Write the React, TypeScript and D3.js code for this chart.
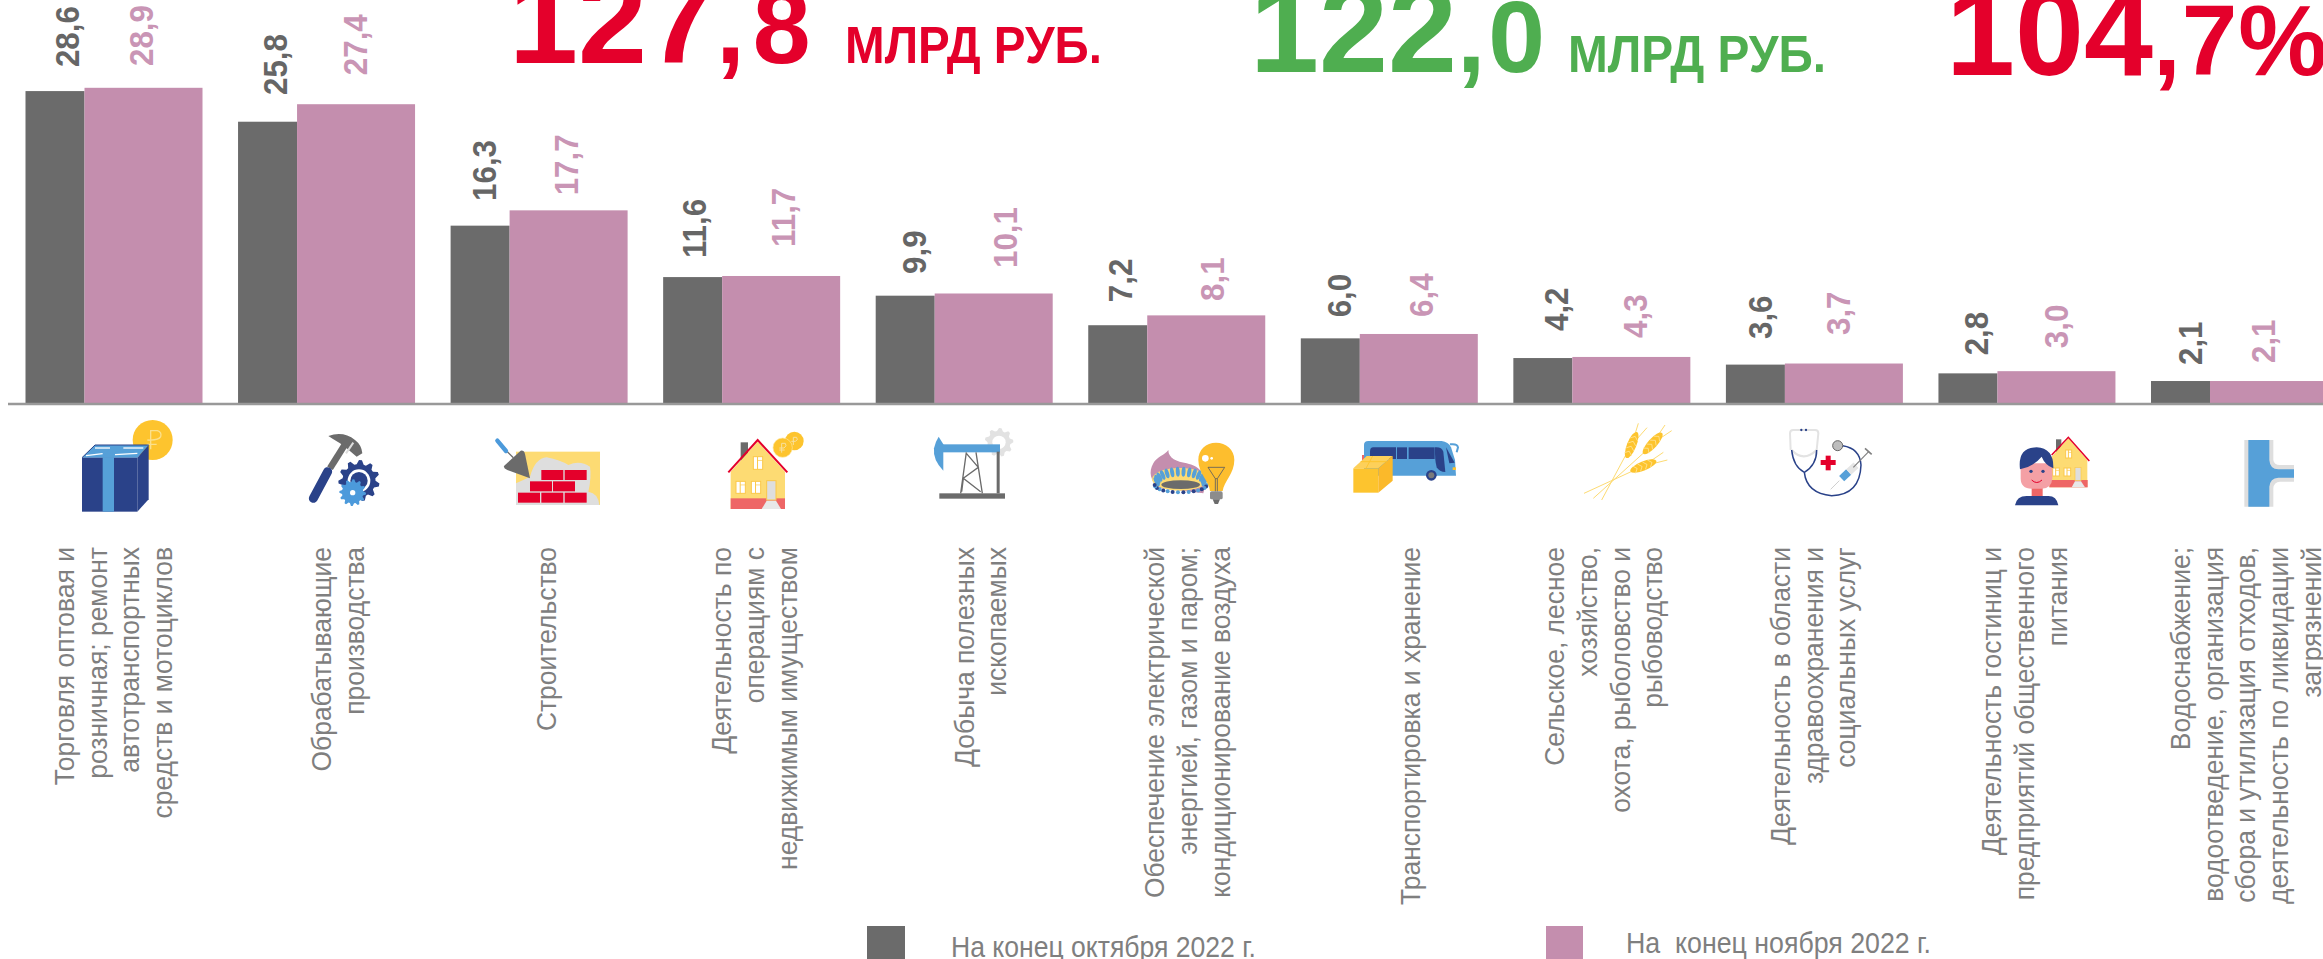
import React from "react";
import * as d3 from "d3";

// ---------- data ----------
const categories: string[][] = [
  ["Торговля оптовая и", "розничная; ремонт", "автотранспортных", "средств и мотоциклов"],
  ["Обрабатывающие", "производства"],
  ["Строительство"],
  ["Деятельность по", "операциям с", "недвижимым имуществом"],
  ["Добыча полезных", "ископаемых"],
  ["Обеспечение электрической", "энергией, газом и паром;", "кондиционирование воздуха"],
  ["Транспортировка и хранение"],
  ["Сельское, лесное", "хозяйство,", "охота, рыболовство и", "рыбоводство"],
  ["Деятельность в области", "здравоохранения и", "социальных услуг"],
  ["Деятельность гостиниц и", "предприятий общественного", "питания"],
  ["Водоснабжение;", "водоотведение, организация", "сбора и утилизация отходов,", "деятельность по ликвидации", "загрязнений"],
];
const octoberValues = [28.6, 25.8, 16.3, 11.6, 9.9, 7.2, 6.0, 4.2, 3.6, 2.8, 2.1];
const novemberValues = [28.9, 27.4, 17.7, 11.7, 10.1, 8.1, 6.4, 4.3, 3.7, 3.0, 2.1];
const legendOctober = "На конец октября 2022 г.";
const legendNovember = "На  конец ноября 2022 г.";
const unitText = "МЛРД РУБ.";

// ---------- layout (separate from the data) ----------
const W = 2323, H = 959;
const AXIS_Y = 404;
const octLabelDx = [53.5, 49, 45, 42.6, 50, 44, 50, 55, 46, 50, 51];
const novLabelDx = [127.5, 129, 127, 132, 141, 136, 132, 134, 124, 130, 124];
const octLabelGap = [24, 26.7, 24.7, 19, 21.7, 23, 21, 27, 25.6, 18, 16];
const novLabelGap = [21.8, 29, 15, 29, 25.5, 14.4, 17, 19, 28.5, 23, 18];
const catFirstBaseDx = [48.5, 93, 105, 68, 98, 76, 119, 51, 64, 63, 39];
const LINE_STEP = 32.7;
const LABEL_TOP = 547;

const DARK = "#6B6B6B", PINK = "#C48EAE", RED = "#E4002B", GREEN = "#4FAE50";
const BLUE = "#2A4289", SKY = "#56A0D8", GOLD = "#FDC42E", SAND = "#FDDB73", CORAL = "#EE6666", LIGHT = "#DEDEDE";
const FONT = "'Liberation Sans', Arial, sans-serif";

const x = d3.scaleBand<number>().domain(d3.range(categories.length)).range([25.5, 25.5 + 212.55 * categories.length]);
const y = d3.scaleLinear().domain([0, 28.9]).range([AXIS_Y, 87.8]);
const sub = d3.scaleLinear().domain([0, 3]).range([0, 177]);

// ---------- icon helpers ----------
function gear(cx: number, cy: number, r: number, teeth: number) {
  const pts: [number, number][] = [];
  const n = teeth * 4;
  for (let i = 0; i < n; i++) {
    const a = (i / n) * 2 * Math.PI;
    pts.push([a, i % 4 < 2 ? r : r * 0.8]);
  }
  const p = d3.lineRadial().curve(d3.curveLinearClosed)(pts) as string;
  return { p, t: `translate(${cx},${cy})` };
}
const Gear = ({ cx, cy, r, teeth, fill }: any) => {
  const g = gear(cx, cy, r, teeth);
  return <path d={g.p} transform={g.t} fill={fill} />;
};
const Icon = ({ ox, oy, children }: any) => <g transform={`translate(${ox},${oy}) scale(${1 / 3})`}>{children}</g>;

const Win = ({ x, y, w, h }: any) => (
  <g>
    <rect x={x} y={y} width={w} height={h} fill="#fff" stroke="#FBC84A" strokeWidth={3} />
    <line x1={x + w * 0.45} x2={x + w * 0.45} y1={y} y2={y + h} stroke="#FBC84A" strokeWidth={3} />
    <line x1={x + w * 0.45} x2={x + w} y1={y + h * 0.3} y2={y + h * 0.3} stroke="#FBC84A" strokeWidth={2} />
  </g>
);

const Wheat = ({ x0, y0, x1, y1, ax, ay, bx, by, hx, hy, rot }: any) => (
  <g>
    <line x1={x0} y1={y0} x2={x1} y2={y1} stroke={SAND} strokeWidth={3} />
    <line x1={hx} y1={hy} x2={ax} y2={ay} stroke={SAND} strokeWidth={3} />
    <line x1={hx} y1={hy} x2={bx} y2={by} stroke={SAND} strokeWidth={3} />
    <g transform={`translate(${hx},${hy}) rotate(${rot})`}>
      <ellipse rx={42} ry={14} fill={GOLD} />
      {[-24, -8, 8, 24].map((d) => (
        <path key={d} d={`M${d - 6},-12 L${d + 4},0 L${d - 6},12`} fill="none" stroke="#FFE9A8" strokeWidth={2} />
      ))}
    </g>
  </g>
);

const icons = (
  <g>
    {/* shop */}
    <Icon ox={60} oy={410}>
      <circle cx={278} cy={90} r={60} fill={GOLD} />
      <path d="M272,118 L272,62 L292,62 Q306,66 302,80 Q296,92 262,90 M260,103 L290,103" fill="none" stroke="#FBE08C" strokeWidth={4} />
      <polygon points="66,143 105,105 266,105 232,143" fill={SKY} />
      <polygon points="232,143 266,105 266,268 232,305" fill={BLUE} />
      <rect x={66} y={143} width={166} height={162} fill={BLUE} />
      <rect x={128} y={143} width={34} height={162} fill={SKY} />
      <polygon points="128,143 162,143 190,105 158,105" fill={SKY} />
      <line x1={78} y1={137} x2={128} y2={131} stroke="#fff" strokeWidth={4} />
      <line x1={165} y1={134} x2={232} y2={130} stroke="#fff" strokeWidth={4} />
      <line x1={105} y1={114} x2={150} y2={114} stroke="#fff" strokeWidth={4} />
      <line x1={190} y1={114} x2={250} y2={114} stroke="#fff" strokeWidth={4} />
      <polyline points="66,143 105,105 266,105" fill="none" stroke={BLUE} strokeWidth={3} />
    </Icon>
    {/* manufacturing */}
    <Icon ox={60} oy={410}>
      <line x1={810} y1={175} x2={860} y2={95} stroke={DARK} strokeWidth={20} />
      <line x1={760} y1={265} x2={803} y2={185} stroke={BLUE} strokeWidth={27} strokeLinecap="round" />
      <path d="M805,78 Q850,62 885,90 Q905,105 907,130 L890,140 L860,115 L840,100 Q820,88 805,78 Z" fill={DARK} />
      <line x1={880} y1={98} x2={858} y2={130} stroke="#ddd" strokeWidth={6} />
      <Gear cx={897} cy={212} r={62} teeth={11} fill={BLUE} />
      <circle cx={897} cy={212} r={34} fill="#fff" />
      <circle cx={897} cy={212} r={26} fill={BLUE} />
      <Gear cx={878} cy={248} r={40} teeth={12} fill="#4C9ADB" />
      <circle cx={878} cy={248} r={8} fill="#fff" />
    </Icon>
    {/* construction */}
    <Icon ox={480} oy={410}>
      <rect x={108} y={125} width={252} height={160} fill={SAND} />
      <path d="M108,285 L108,220 Q130,210 150,200 Q165,145 200,142 Q240,150 265,165 Q300,150 330,170 Q335,200 325,245 Q355,250 358,285 Z" fill={LIGHT} />
      {[[184, 180], [254, 180], [150, 214], [219, 214], [114, 248], [184, 248], [254, 248]].map(([bx, by]) => (
        <rect key={`${bx}-${by}`} x={bx} y={by} width={66} height={30} fill={RED} />
      ))}
      <line x1={82} y1={125} x2={100} y2={143} stroke={DARK} strokeWidth={4} />
      <line x1={52} y1={92} x2={78} y2={123} stroke="#4C9ADB" strokeWidth={13} strokeLinecap="round" />
      <path d="M72,168 L122,122 Q132,120 135,132 L150,205 L82,180 Q70,175 72,168 Z" fill={DARK} />
    </Icon>
    {/* real estate */}
    <Icon ox={480} oy={410}>
      <rect x={782} y={97} width={22} height={55} fill={DARK} />
      <polygon points="752,185 833,95 915,185 915,297 752,297" fill={SAND} />
      <rect x={752} y={265} width={163} height={32} fill={CORAL} />
      <polyline points="745,187 833,90 922,187" fill="none" stroke={RED} strokeWidth={6} />
      <Win x={820} y={140} w={28} h={38} />
      <Win x={768} y={214} w={28} h={36} />
      <Win x={814} y={214} w={28} h={36} />
      <rect x={860} y={212} width={28} height={58} fill={LIGHT} stroke="#FBC84A" strokeWidth={3} />
      <polygon points="845,297 860,272 888,272 903,297" fill="#E8E8E8" />
      <circle cx={943} cy={93} r={28} fill={GOLD} />
      <circle cx={908} cy={113} r={29} fill={GOLD} stroke="#FDE7A0" strokeWidth={2} />
      <path d="M905,128 L905,100 L916,100 Q922,108 912,114 L898,114 M898,120 L914,120" fill="none" stroke="#F7E0A0" strokeWidth={3} />
      <path d="M940,105 L940,82 L950,82 Q956,90 946,94 L934,94" fill="none" stroke="#F7E0A0" strokeWidth={3} />
    </Icon>
    {/* mining */}
    <Icon ox={920} oy={410}>
      <Gear cx={237} cy={97} r={43} teeth={9} fill="#E2E2E2" />
      <circle cx={237} cy={97} r={20} fill="#fff" />
      <rect x={68} y={103} width={172} height={24} fill={SKY} />
      <path d="M70,182 Q38,150 42,115 Q46,95 56,80 L70,103 Z" fill={SKY} />
      <rect x={58} y={250} width={197} height={16} fill={DARK} />
      <rect x={230} y={125} width={9} height={125} fill={DARK} />
      <path d="M139,127 L122,250 M168,127 L187,250 M139,130 L175,172 L130,205 L182,245 M130,205 L125,245" fill="none" stroke={DARK} strokeWidth={4} />
    </Icon>
    {/* energy */}
    <Icon ox={920} oy={410}>
      <path d="M745,120 C745,145 770,155 800,160 C820,165 830,170 840,180 L860,210 L850,250 L720,235 C690,215 685,185 700,160 C710,140 735,135 745,120 Z" fill={PINK} />
      <ellipse cx={780} cy={208} rx={84} ry={34} fill={SAND} />
      {d3.range(14).map((i) => {
        const a = Math.PI + (i / 13) * Math.PI;
        const fx = 782 + 72 * Math.cos(a), fy = 215 + 30 * Math.sin(a);
        return <ellipse key={i} cx={fx} cy={fy} rx={6} ry={15} fill={SKY} transform={`rotate(${(Math.cos(a) * 30).toFixed(1)},${fx},${fy})`} />;
      })}
      {d3.range(16).map((i) => {
        const a = (i / 15) * Math.PI;
        const fx = 782 + 78 * Math.cos(a), fy = 225 + 22 * Math.sin(a);
        return <circle key={i} cx={fx} cy={fy} r={6} fill={i % 2 ? BLUE : SKY} />;
      })}
      <ellipse cx={782} cy={224} rx={58} ry={13} fill={DARK} />
      <path d="M870,243 C868,215 835,190 835,150 C835,118 858,98 888,98 C918,98 943,118 943,150 C943,190 912,215 908,243 Z" fill="#FDBE2E" />
      <circle cx={856} cy={145} r={10} fill="#fff" />
      <circle cx={875} cy={145} r={4} fill="#fff" />
      <path d="M864,172 L914,172 L892,206 L886,206 Z M886,206 L886,245 M892,206 L892,245" fill="none" stroke="#5E5E5E" strokeWidth={2.5} />
      <rect x={870} y={244} width={38} height={24} rx={5} fill="#8C8C8C" />
      <path d="M878,268 L900,268 L894,282 L884,282 Z" fill="#6B6B6B" />
    </Icon>
    {/* transport */}
    <Icon ox={1340} oy={410}>
      <rect x={66} y={135} width={10} height={20} fill={CORAL} />
      <path d="M72,105 Q72,93 85,93 L305,93 Q325,95 333,112 L345,150 L348,197 L72,197 Z" fill={SKY} />
      <path d="M90,125 Q90,112 100,112 L168,112 L168,147 L90,147 Z" fill={BLUE} />
      <rect x={171} y={112} width={30} height={35} fill={BLUE} />
      <rect x={206} y={112} width={78} height={35} fill={BLUE} />
      <path d="M285,112 Q305,110 310,125 L316,186 Q298,186 290,172 Q284,150 285,112 Z" fill={BLUE} />
      <path d="M318,112 L344,158 L328,160 Z" fill={BLUE} />
      <path d="M330,103 Q352,100 354,112 L350,127" fill="none" stroke={SKY} strokeWidth={6} />
      <rect x={338} y={172} width={10} height={8} fill={GOLD} />
      <circle cx={274} cy={196} r={16} fill={BLUE} />
      <circle cx={274} cy={196} r={9} fill="#7A7A7A" />
      <polygon points="40,175 80,138 158,138 115,175" fill="#FDD05A" />
      <rect x={40} y={175} width={75} height={73} fill={GOLD} />
      <polygon points="115,175 158,138 158,212 115,248" fill="#FBB92A" />
      <path d="M62,155 L140,155 M98,138 L78,175" stroke={GOLD} strokeWidth={3} fill="none" />
    </Icon>
    {/* agriculture */}
    <Icon ox={1340} oy={410}>
      <Wheat x0={785} y0={270} x1={860} y1={130} hx={875} hy={105} rot={-68} ax={895} ay={40} bx={921} by={53} />
      <Wheat x0={760} y0={265} x1={915} y1={125} hx={938} hy={100} rot={-48} ax={975} ay={45} bx={995} by={62} />
      <Wheat x0={732} y0={250} x1={880} y1={182} hx={910} hy={168} rot={-22} ax={970} ay={127} bx={982} by={150} />
    </Icon>
    {/* health */}
    <Icon ox={1770} oy={410}>
      <path d="M62,120 L60,70 Q60,60 70,60 L135,60 Q145,60 145,70 L140,120" fill="none" stroke="#E3E3E3" strokeWidth={6} />
      <path d="M65,120 Q100,158 140,120" fill="none" stroke="#E3E3E3" strokeWidth={7} />
      <circle cx={94} cy={60} r={3.5} fill={BLUE} /><circle cx={108} cy={60} r={3.5} fill={BLUE} />
      <path d="M65,120 Q70,170 103,187 Q140,165 140,120 M103,187 Q110,250 185,257 Q270,255 273,165 Q270,115 218,107" fill="none" stroke={BLUE} strokeWidth={4.5} />
      <circle cx={203} cy={107} r={15} fill="#BDBDBD" stroke="#666" strokeWidth={3} />
      <rect x={152} y={150} width={45} height={15} fill={RED} />
      <rect x={167} y={137} width={15} height={44} fill={RED} />
      <line x1={182} y1={238} x2={208} y2={212} stroke="#D0D0D0" strokeWidth={3} />
      <line x1={215} y1={206} x2={236} y2={186} stroke={SKY} strokeWidth={22} />
      <line x1={236} y1={186} x2={258} y2={166} stroke="#E5E5E5" strokeWidth={22} />
      <line x1={250} y1={172} x2={296} y2={125} stroke="#808080" strokeWidth={3.5} />
      <line x1={285} y1={115} x2={305} y2={133} stroke="#808080" strokeWidth={5} />
    </Icon>
    {/* hotels */}
    <Icon ox={1770} oy={410}>
      <rect x={858} y={88} width={16} height={40} fill={DARK} />
      <polygon points="845,140 895,85 952,150 952,232 838,232 838,180" fill={SAND} />
      <rect x={838} y={210} width={115} height={22} fill={CORAL} />
      <polyline points="845,135 895,82 958,153" fill="none" stroke={RED} strokeWidth={4.5} />
      <Win x={887} y={120} w={18} h={24} />
      <Win x={848} y={174} w={20} h={24} />
      <Win x={882} y={174} w={20} h={24} />
      <rect x={915} y={172} width={18} height={40} fill={LIGHT} stroke="#FBC84A" strokeWidth={2} />
      <polygon points="905,232 915,214 933,214 945,232" fill="#E8E8E8" />
      <rect x={785} y={232} width={33} height={26} fill={CORAL} />
      <path d="M735,286 Q740,258 770,258 L835,258 Q860,258 865,286 Z" fill={BLUE} />
      <path d="M752,160 L847,160 L847,205 Q845,236 815,236 L785,236 Q752,236 752,205 Z" fill="#F4A0A5" />
      <path d="M750,178 Q742,112 800,112 Q852,115 850,175 Q825,165 815,140 Q790,170 750,178 Z" fill={BLUE} />
      <circle cx={783} cy={184} r={5} fill={BLUE} /><circle cx={819} cy={184} r={5} fill={BLUE} />
      <path d="M785,210 Q800,225 816,210" fill="none" stroke={RED} strokeWidth={3} />
    </Icon>
    {/* water */}
    <Icon ox={2200} oy={410}>
      <path d="M133,90 L220,90 L220,150 Q222,165 240,165 L282,165 L282,215 L240,215 Q222,215 220,235 L220,290 L133,290 Z" fill={LIGHT} />
      <path d="M145,90 L208,90 L208,150 Q210,178 235,178 L282,178 L282,203 L235,203 Q210,205 208,230 L208,290 L145,290 Z" fill={SKY} />
    </Icon>
  </g>
);

export default function App() {
  const sp = { fontFamily: FONT, fontWeight: 700 } as const;
  return (
    <svg width={W} height={H} viewBox={`0 0 ${W} ${H}`} style={{ position: "absolute", left: 0, top: 0, display: "block", background: "#fff" }}>
      {/* headline figures */}
      <text x={509} y={63} fill={RED} {...sp}><tspan fontSize={124}>127</tspan><tspan fontSize={104} letterSpacing={8}>,8</tspan></text>
      <text x={845} y={63} fill={RED} {...sp} fontSize={51} textLength={257} lengthAdjust="spacingAndGlyphs">{unitText}</text>
      <text x={1250} y={72} fill={GREEN} {...sp}><tspan fontSize={124}>122</tspan><tspan fontSize={102} letterSpacing={3}>,0</tspan></text>
      <text x={1568} y={72} fill={GREEN} {...sp} fontSize={51} textLength={258} lengthAdjust="spacingAndGlyphs">{unitText}</text>
      <text x={1946} y={75} fill={RED} {...sp}><tspan fontSize={124}>104</tspan><tspan fontSize={100} letterSpacing={1}>,7%</tspan></text>

      {/* bars */}
      {categories.map((_, i) => {
        const x0 = x(i) as number;
        return (
          <g key={i}>
            <rect x={x0 + sub(0)} y={y(octoberValues[i])} width={sub(1) - sub(0)} height={AXIS_Y - y(octoberValues[i])} fill={DARK} />
            <rect x={x0 + sub(1)} y={y(novemberValues[i])} width={sub(3) - sub(1)} height={AXIS_Y - y(novemberValues[i])} fill={PINK} />
          </g>
        );
      })}
      <line x1={8} x2={W} y1={AXIS_Y} y2={AXIS_Y} stroke="#999" strokeWidth={2.5} />

      {/* value labels */}
      {categories.map((_, i) => {
        const x0 = x(i) as number;
        const fmt = (v: number) => v.toFixed(1).replace(".", ",");
        return (
          <g key={i} {...sp} fontSize={33}>
            <text transform={`translate(${x0 + octLabelDx[i]},${y(octoberValues[i]) - octLabelGap[i]}) rotate(-90) scale(0.95,1)`} fill="#666">{fmt(octoberValues[i])}</text>
            <text transform={`translate(${x0 + novLabelDx[i]},${y(novemberValues[i]) - novLabelGap[i]}) rotate(-90) scale(0.95,1)`} fill="#C995B5">{fmt(novemberValues[i])}</text>
          </g>
        );
      })}

      {icons}

      {/* category labels */}
      {categories.map((lines, i) => (
        <g key={i} fontFamily={FONT} fontSize={28} fill="#7F7F7F" textAnchor="end">
          {lines.map((ln, j) => (
            <text key={j} transform={`translate(${(x(i) as number) + catFirstBaseDx[i] + j * LINE_STEP},${LABEL_TOP}) rotate(-90) scale(0.945,1)`}>{ln}</text>
          ))}
        </g>
      ))}

      {/* legend */}
      <rect x={867} y={926} width={38} height={33} fill={DARK} />
      <text x={951} y={957} fontFamily={FONT} fontSize={30} fill="#7F7F7F" textLength={305} lengthAdjust="spacingAndGlyphs" xmlSpace="preserve">{legendOctober}</text>
      <rect x={1546} y={926} width={37} height={33} fill={PINK} />
      <text x={1626} y={953} fontFamily={FONT} fontSize={30} fill="#7F7F7F" textLength={305} lengthAdjust="spacingAndGlyphs" xmlSpace="preserve">{legendNovember}</text>
    </svg>
  );
}
